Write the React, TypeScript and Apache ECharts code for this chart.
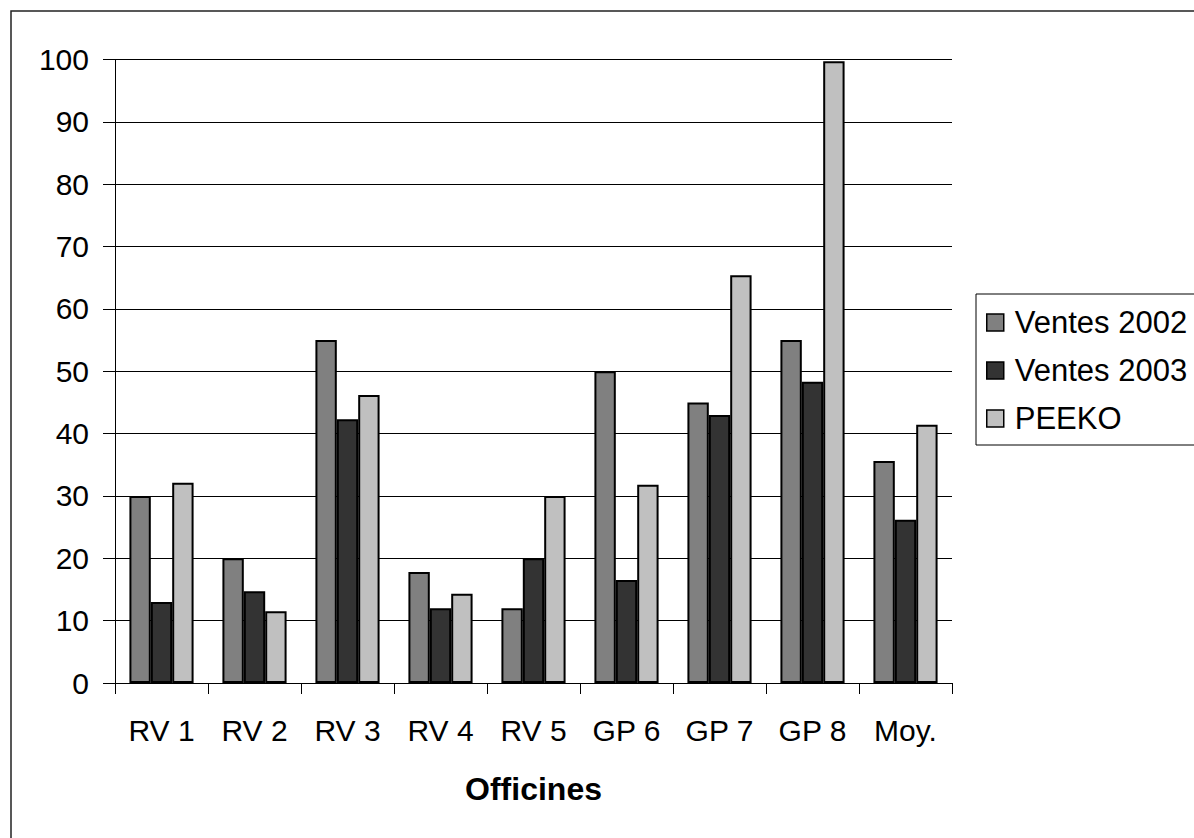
import React, { useEffect, useRef } from "react";
import * as echarts from "echarts";

// Offices on the x axis
const categories = ["RV 1", "RV 2", "RV 3", "RV 4", "RV 5", "GP 6", "GP 7", "GP 8", "Moy."];

// Series values per office
const ventes2002 = [30, 20, 55, 17.8, 12, 50, 45, 55, 35.6];
const ventes2003 = [13, 14.7, 42.3, 12, 20, 16.5, 43, 48.3, 26.2];
const peeko = [32.1, 11.5, 46.2, 14.3, 30, 31.8, 65.4, 99.7, 41.4];

const seriesNames = ["Ventes 2002", "Ventes 2003", "PEEKO"];
const seriesColors = ["#808080", "#333333", "#c0c0c0"];

const FONT = "'Liberation Sans', Arial, sans-serif";

export default function App() {
  const ref = useRef<HTMLDivElement>(null);

  useEffect(() => {
    if (!ref.current) return;
    const chart = echarts.init(ref.current, undefined, { renderer: "svg" });
    const data = [ventes2002, ventes2003, peeko];

    chart.setOption({
      animation: false,
      backgroundColor: "#ffffff",
      textStyle: { fontFamily: FONT },
      grid: { left: 115, right: 242, top: 59.5, bottom: 155, containLabel: false },
      graphic: [
        {
          type: "rect",
          shape: { x: 11, y: 11, width: 1400, height: 1000 },
          style: { fill: "none", stroke: "#222", lineWidth: 1.5 },
          silent: true,
        },
      ],
      legend: {
        orient: "vertical",
        left: 976,
        top: 294,
        padding: [13, 20, 11, 10],
        itemGap: 17,
        itemWidth: 17,
        itemHeight: 17,
        borderColor: "#000",
        borderWidth: 1,
        icon: "rect",
        itemStyle: { borderColor: "#000", borderWidth: 1.5 },
        textStyle: { fontFamily: FONT, fontSize: 31, color: "#000", padding: [0, 0, 0, 6] },
        data: seriesNames,
      },
      xAxis: {
        type: "category",
        data: categories,
        name: "Officines",
        nameLocation: "middle",
        nameGap: 90,
        nameTextStyle: { fontFamily: FONT, fontSize: 32, fontWeight: "bold", color: "#000" },
        axisLine: { lineStyle: { color: "#000", width: 1 } },
        axisTick: { show: true, length: 11, lineStyle: { color: "#000" } },
        axisLabel: { fontFamily: FONT, fontSize: 30, color: "#000", margin: 32, interval: 0 },
      },
      yAxis: {
        type: "value",
        min: 0,
        max: 100,
        interval: 10,
        axisLine: { show: true, lineStyle: { color: "#000", width: 1 } },
        axisTick: { show: true, length: 12, lineStyle: { color: "#000" } },
        axisLabel: { fontFamily: FONT, fontSize: 30, color: "#000", margin: 26 },
        splitLine: { show: true, lineStyle: { color: "#000", width: 1 } },
      },
      series: seriesNames.map((name, i) => ({
        name,
        type: "bar",
        data: data[i],
        barGap: "0%",
        barCategoryGap: "31%",
        itemStyle: { color: seriesColors[i], borderColor: "#000", borderWidth: 2 },
      })),
    });

    return () => chart.dispose();
  }, []);

  return (
    <div
      ref={ref}
      style={{ position: "absolute", left: 0, top: 0, width: 1194, height: 838, background: "#fff" }}
    />
  );
}
